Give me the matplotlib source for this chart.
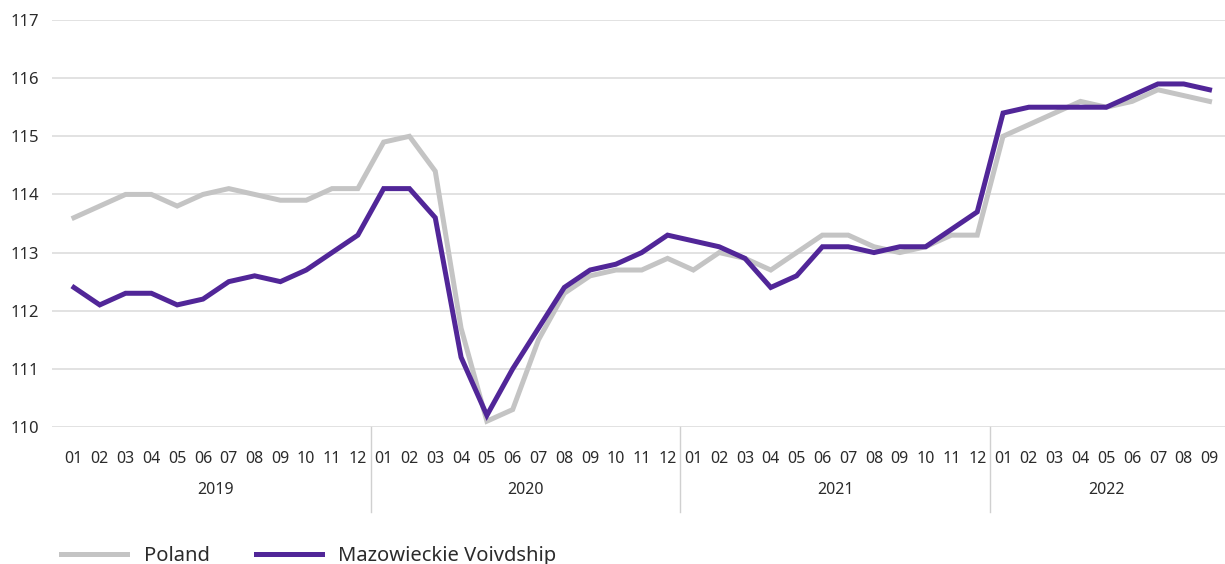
import matplotlib
matplotlib.use("Agg")
import matplotlib.pyplot as plt
import matplotlib.transforms as mtransforms

plt.rcParams['font.family'] = ['Noto Sans', 'DejaVu Sans']

years = ['2019', '2020', '2021', '2022']
months_per_year = [12, 12, 12, 9]

poland = [113.6, 113.8, 114.0, 114.0, 113.8, 114.0, 114.1, 114.0, 113.9, 113.9, 114.1, 114.1,
          114.9, 115.0, 114.4, 111.7, 110.1, 110.3, 111.5, 112.3, 112.6, 112.7, 112.7, 112.9,
          112.7, 113.0, 112.9, 112.7, 113.0, 113.3, 113.3, 113.1, 113.0, 113.1, 113.3, 113.3,
          115.0, 115.2, 115.4, 115.6, 115.5, 115.6, 115.8, 115.7, 115.6]
mazowieckie = [112.4, 112.1, 112.3, 112.3, 112.1, 112.2, 112.5, 112.6, 112.5, 112.7, 113.0, 113.3,
               114.1, 114.1, 113.6, 111.2, 110.2, 111.0, 111.7, 112.4, 112.7, 112.8, 113.0, 113.3,
               113.2, 113.1, 112.9, 112.4, 112.6, 113.1, 113.1, 113.0, 113.1, 113.1, 113.4, 113.7,
               115.4, 115.5, 115.5, 115.5, 115.5, 115.7, 115.9, 115.9, 115.8]

month_labels = []
for n in months_per_year:
    month_labels += ['%02d' % (m + 1) for m in range(n)]
x = list(range(len(month_labels)))

fig = plt.figure(figsize=(12.25, 5.64), dpi=100)
ax = fig.add_axes([52 / 1225, 1 - 427 / 564, 1 - 52 / 1225, (427 - 20) / 564])

gray = '#C4C4C4'
purple = '#512698'
txt = '#2b2b2b'

ax.plot(x, poland, color=gray, lw=3.6, label='Poland', solid_joinstyle='miter')
ax.plot(x, mazowieckie, color=purple, lw=3.6, label='Mazowieckie Voivdship', solid_joinstyle='miter')

ax.set_ylim(110, 117)
ax.set_xlim(-0.85, 44.6)
ax.set_yticks(range(110, 118))
ax.grid(axis='y', color='#DDDDDD', lw=1.2)
ax.set_axisbelow(True)
for s in ax.spines.values():
    s.set_visible(False)

ax.set_xticks(x)
ax.set_xticklabels(month_labels)
ax.tick_params(axis='both', length=0, labelsize=11.5, colors=txt)
ax.tick_params(axis='y', pad=9, labelsize=12)
ax.tick_params(axis='x', pad=17)

# year labels and separators
trans = mtransforms.blended_transform_factory(ax.transData, ax.transAxes)
start = 0
for i, (yr, n) in enumerate(zip(years, months_per_year)):
    mid = start + (n - 1) / 2
    ax.text(mid, -0.155, yr, transform=trans, ha='center', va='center',
            fontsize=11.5, color=txt)
    if i > 0:
        ax.plot([start - 0.5, start - 0.5], [0, -0.21], transform=trans,
                color='#D0D0D0', lw=1, clip_on=False)
    start += n

fig.legend(loc='lower left', bbox_to_anchor=(0.035, -0.035), ncol=2, frameon=False,
           handlelength=3.3, handletextpad=0.8, columnspacing=2.3,
           prop={'size': 14.5}, labelcolor=txt)

fig.savefig('out.png', dpi=100)
